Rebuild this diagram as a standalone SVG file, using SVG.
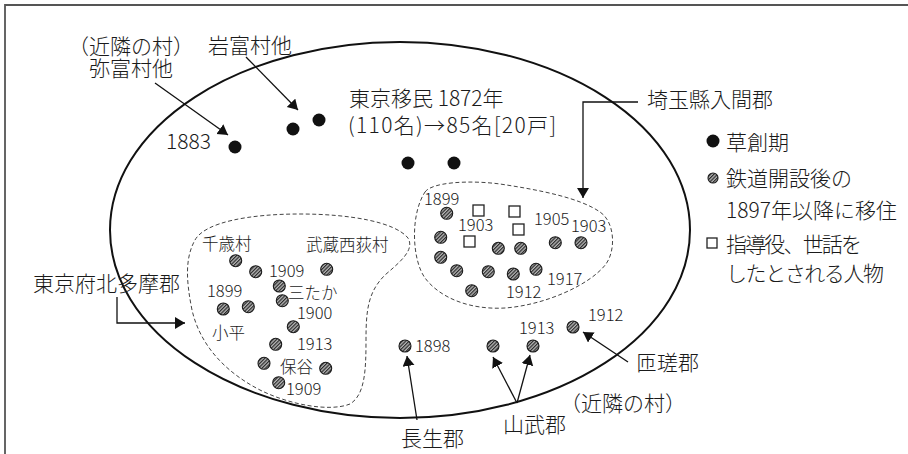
<svg xmlns="http://www.w3.org/2000/svg" width="908" height="454" viewBox="0 0 908 454">
<style>
.t{font-family:"Noto Sans CJK JP","Noto Sans",sans-serif;font-weight:300;fill:#1a1a1a}
.L{font-size:21px}
.S{font-size:16.5px}
.hd{fill:url(#hatch);stroke:#1a1a1a;stroke-width:1.1}
.bd{fill:#111}
.sq{fill:#fff;stroke:#222;stroke-width:1.3}
.dash{fill:none;stroke:#444;stroke-width:1;stroke-dasharray:4 2.5}
.con{fill:none;stroke:#111;stroke-width:1.3;marker-end:url(#ah)}
</style>
<defs>
<pattern id="hatch" patternUnits="userSpaceOnUse" width="2.5" height="2.5" patternTransform="rotate(45)">
<rect width="2.5" height="2.5" fill="#b8b8b8"/>
<line x1="0.6" y1="0" x2="0.6" y2="2.5" stroke="#2a2a2a" stroke-width="1.2"/>
</pattern>
<marker id="ah" markerUnits="userSpaceOnUse" markerWidth="11" markerHeight="13" refX="10" refY="6" orient="auto">
<path d="M0,0 L10,6 L0,12 Z" fill="#111"/>
</marker>
</defs>
<rect width="908" height="454" fill="#fff"/>
<path d="M5,454 V5 H908" fill="none" stroke="#555" stroke-width="1.8"/>
<g id="ellipse"><ellipse cx="400" cy="230" rx="290" ry="188" fill="none" stroke="#111" stroke-width="2"/></g>

<g id="connectors">
<path class="con" d="M155,83 L228,135"/>
<path class="con" d="M246,57 L298,110"/>
<path class="con" d="M638,102 H583 V198"/>
<path class="con" d="M117,297 V323 H185"/>
<path class="con" d="M417,420 L407,356"/>
<path class="con" d="M517,403 L493,357"/>
<path class="con" d="M517,403 L530,355"/>
<path class="con" d="M628,362 L583,332"/>
</g>

<g id="early">
<circle class="bd" cx="235" cy="147" r="6.5"/>
<circle class="bd" cx="293" cy="129" r="6.5"/>
<circle class="bd" cx="319" cy="120" r="6.5"/>
<circle class="bd" cx="408" cy="163" r="6.5"/>
<circle class="bd" cx="454" cy="163" r="6.5"/>
<text class="t L" x="166" y="149">1883</text>
</g>

<g id="label-yatomi">
<text class="t L" x="131" y="54" text-anchor="middle">（近隣の村）</text>
<text class="t L" x="131" y="76" text-anchor="middle">弥富村他</text>
</g>
<g id="label-iwatomi"><text class="t L" x="250" y="53" text-anchor="middle">岩富村他</text></g>
<g id="label-tokyo-imin">
<text class="t L" x="349" y="106">東京移民 1872年</text>
<text class="t L" x="348" y="133" textLength="208" lengthAdjust="spacing">(110名)→85名[20戸]</text>
</g>

<g id="saitama">
<path class="dash" d="M425,192 C432,182 470,180 500,184 C540,190 580,198 600,212 C615,222 616,250 606,264 C590,285 545,305 505,308 C470,310 440,298 425,278 C412,260 410,215 425,192 Z"/>
<circle class="hd" cx="446.7" cy="213.3" r="6"/>
<circle class="hd" cx="440.7" cy="237.3" r="6"/>
<circle class="hd" cx="440.7" cy="257.3" r="6"/>
<circle class="hd" cx="456.7" cy="270.7" r="6"/>
<circle class="hd" cx="471.7" cy="290.7" r="6"/>
<circle class="hd" cx="488.3" cy="271.7" r="6"/>
<circle class="hd" cx="498.3" cy="248.3" r="6"/>
<circle class="hd" cx="520.7" cy="248.3" r="6"/>
<circle class="hd" cx="513.3" cy="274" r="6"/>
<circle class="hd" cx="536" cy="269.3" r="6"/>
<circle class="hd" cx="555.3" cy="242.7" r="6"/>
<circle class="hd" cx="581" cy="242.7" r="6"/>
<rect class="sq" x="473" y="205" width="11" height="11"/>
<rect class="sq" x="509" y="206" width="11" height="11"/>
<rect class="sq" x="513" y="224" width="11" height="11"/>
<rect class="sq" x="464" y="236" width="11" height="11"/>
<text class="t S" x="424" y="205">1899</text>
<text class="t S" x="458" y="231">1903</text>
<text class="t S" x="534" y="225">1905</text>
<text class="t S" x="571" y="232">1903</text>
<text class="t S" x="547" y="285">1917</text>
<text class="t S" x="506" y="298">1912</text>
</g>
<g id="label-saitama"><text class="t L" x="647" y="107">埼玉縣入間郡</text></g>

<g id="tokyo-kitatama">
<path class="dash" d="M195,240 C205,222 250,214 300,214 C350,214 395,222 408,238 C415,250 400,262 385,275 C368,292 366,310 366,340 C366,370 365,395 350,404 C330,412 290,405 260,390 C225,372 200,345 192,310 C186,280 185,258 195,240 Z"/>
<circle class="hd" cx="235.7" cy="260.7" r="6"/>
<circle class="hd" cx="255.7" cy="271.7" r="6"/>
<circle class="hd" cx="279.3" cy="286" r="6"/>
<circle class="hd" cx="282.3" cy="300.7" r="6"/>
<circle class="hd" cx="248.3" cy="306.7" r="6"/>
<circle class="hd" cx="223.3" cy="309" r="6"/>
<circle class="hd" cx="293.3" cy="326.7" r="6"/>
<circle class="hd" cx="275.7" cy="344.3" r="6"/>
<circle class="hd" cx="264" cy="363.3" r="6"/>
<circle class="hd" cx="278.7" cy="382.7" r="6"/>
<circle class="hd" cx="325.7" cy="368.3" r="6"/>
<circle class="hd" cx="326.7" cy="269.3" r="6"/>
<text class="t S" x="202" y="250">千歳村</text>
<text class="t S" x="306" y="251">武蔵西荻村</text>
<text class="t S" x="269" y="277">1909</text>
<text class="t S" x="288" y="299">三たか</text>
<text class="t S" x="207" y="297">1899</text>
<text class="t S" x="297" y="319">1900</text>
<text class="t S" x="212" y="339">小平</text>
<text class="t S" x="297" y="350">1913</text>
<text class="t S" x="280" y="373">保谷</text>
<text class="t S" x="286" y="395">1909</text>
</g>
<g id="label-kitatama"><text class="t L" x="33" y="291">東京府北多摩郡</text></g>

<g id="chosei">
<circle class="hd" cx="405" cy="346" r="6"/>
<text class="t S" x="415" y="352">1898</text>
</g>
<g id="label-chosei"><text class="t L" x="401" y="446">長生郡</text></g>

<g id="sanbu">
<circle class="hd" cx="493" cy="346" r="6"/>
<circle class="hd" cx="533" cy="346" r="6"/>
<text class="t S" x="519" y="334">1913</text>
</g>
<g id="label-sanbu"><text class="t L" x="503" y="432">山武郡</text></g>

<g id="sosa">
<circle class="hd" cx="573" cy="327" r="6"/>
<text class="t S" x="588" y="321">1912</text>
</g>
<g id="label-sosa"><text class="t L" x="636" y="370">匝瑳郡</text></g>
<g id="label-kinrin"><text class="t L" x="560" y="411">（近隣の村）</text></g>

<g id="legend">
<circle class="bd" cx="713" cy="141" r="6.5"/>
<text class="t L" x="726" y="150">草創期</text>
<circle class="hd" cx="713" cy="178" r="5"/>
<text class="t L" x="726" y="186">鉄道開設後の</text>
<text class="t L" x="726" y="218">1897年以降に移住</text>
<rect class="sq" x="707" y="238" width="10" height="10"/>
<text class="t L" x="726" y="252" textLength="136" lengthAdjust="spacing">指導役、世話を</text>
<text class="t L" x="726" y="281" textLength="158" lengthAdjust="spacing">したとされる人物</text>
</g>
</svg>
